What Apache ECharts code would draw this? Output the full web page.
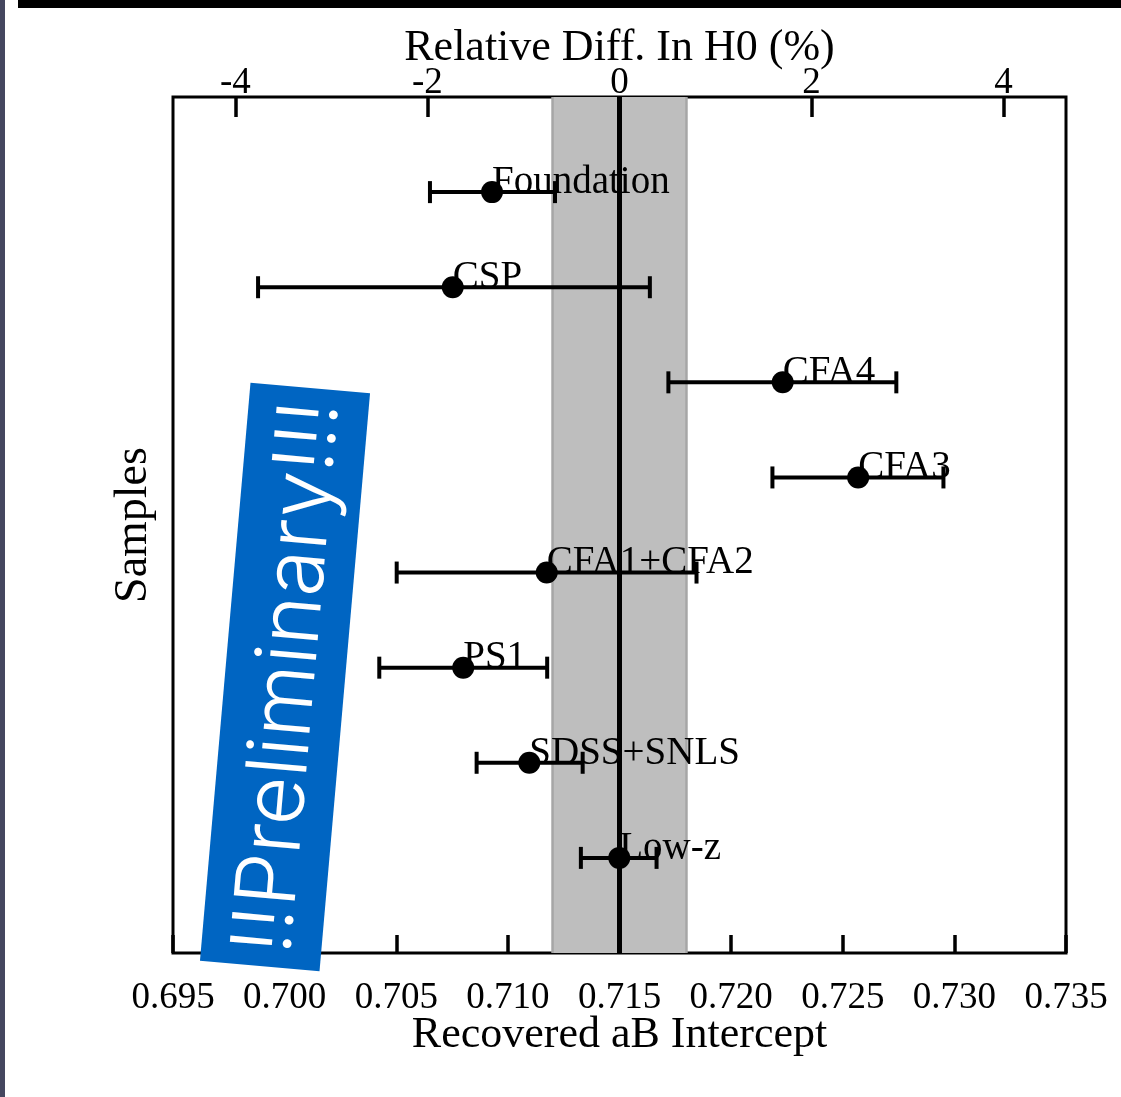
<!DOCTYPE html>
<html><head><meta charset="utf-8">
<script src="https://cdn.jsdelivr.net/npm/echarts@6/dist/echarts.min.js"></script>
<style>html,body{margin:0;padding:0;background:#fff}#c{width:1121px;height:1097px}</style>
</head><body><div id="c"></div>
<script>
// ---- data ----
const samples   = ['Foundation','CSP','CFA4','CFA3','CFA1+CFA2','PS1','SDSS+SNLS','Low-z'];
const rowPos    = [8, 7, 6, 5, 4, 3, 2, 1];
const intercept = [0.70929, 0.70753, 0.72231, 0.72569, 0.71174, 0.70800, 0.71096, 0.71499];
const errLow    = [0.70651, 0.69881, 0.71719, 0.72185, 0.70502, 0.70424, 0.70860, 0.71327];
const errHigh   = [0.71211, 0.71636, 0.72740, 0.72951, 0.71845, 0.71176, 0.71335, 0.71666];
const refValue  = 0.715;
const bandRange = [0.712, 0.718];
const h0Ticks   = [-4, -2, 0, 2, 4];
const h0Range   = [-4.65, 4.65];
const xRange    = [0.695, 0.735];
const xStep     = 0.005;
const yRange    = [0, 9];

const SERIF = '"Liberation Serif", "Times New Roman", serif';
const chart = echarts.init(document.getElementById('c'), null, {renderer: 'canvas'});

const pointData = samples.map((s, i) => [errLow[i], errHigh[i], intercept[i], rowPos[i], s]);

chart.setOption({
  backgroundColor: '#fff',
  animation: false,
  grid: {left: 173, right: 55, top: 97, bottom: 144, show: true, borderColor: '#000', borderWidth: 3, backgroundColor: 'transparent'},
  xAxis: [{
    type: 'value', position: 'bottom', min: xRange[0], max: xRange[1], interval: xStep,
    axisLine: {show: false}, splitLine: {show: false},
    axisTick: {show: true, inside: true, length: 18, lineStyle: {color: '#000', width: 3.5}},
    axisLabel: {margin: 27, color: '#000', fontFamily: SERIF, fontSize: 37, formatter: v => v.toFixed(3)},
    name: 'Recovered aB Intercept', nameLocation: 'middle', nameGap: 60, nameMoveOverlap: false,
    nameTextStyle: {color: '#000', fontFamily: SERIF, fontSize: 44}
  }, {
    type: 'value', position: 'top', min: h0Range[0], max: h0Range[1],
    axisLine: {show: false}, splitLine: {show: false},
    axisTick: {show: true, inside: true, length: 20, customValues: h0Ticks, lineStyle: {color: '#000', width: 3.5}},
    axisLabel: {margin: -5, color: '#000', fontFamily: SERIF, fontSize: 37, customValues: h0Ticks},
    name: 'Relative Diff. In H0 (%)', nameLocation: 'middle', nameGap: 27, nameMoveOverlap: false,
    nameTextStyle: {color: '#000', fontFamily: SERIF, fontSize: 44}
  }],
  yAxis: [{
    type: 'value', min: yRange[0], max: yRange[1],
    axisLine: {show: false}, axisTick: {show: false}, axisLabel: {show: false}, splitLine: {show: false},
    name: 'Samples', nameLocation: 'middle', nameGap: 16, nameRotate: 90, nameMoveOverlap: false,
    nameTextStyle: {color: '#000', fontFamily: SERIF, fontSize: 46}
  }],
  series: [{
    type: 'custom', xAxisIndex: 0, yAxisIndex: 0, silent: true, z: 1,
    data: [bandRange],
    renderItem: (params, api) => {
      const p0 = api.coord([api.value(0), yRange[1]]);
      const p1 = api.coord([api.value(1), yRange[0]]);
      return {type: 'group', children: [
        {type: 'rect', shape: {x: p0[0], y: p0[1], width: p1[0] - p0[0], height: p1[1] - p0[1]}, style: {fill: '#bebebe'}},
        {type: 'line', shape: {x1: p0[0], y1: p0[1], x2: p0[0], y2: p1[1]}, style: {stroke: '#a6a6a6', lineWidth: 2.5}},
        {type: 'line', shape: {x1: p1[0], y1: p0[1], x2: p1[0], y2: p1[1]}, style: {stroke: '#a6a6a6', lineWidth: 2.5}}
      ]};
    }
  }, {
    type: 'custom', xAxisIndex: 0, yAxisIndex: 0, silent: true, z: 2,
    data: [[refValue]],
    renderItem: (params, api) => {
      const a = api.coord([api.value(0), yRange[1]]);
      const b = api.coord([api.value(0), yRange[0]]);
      return {type: 'line', shape: {x1: a[0], y1: a[1], x2: b[0], y2: b[1]}, style: {stroke: '#000', lineWidth: 5}};
    }
  }, {
    type: 'custom', xAxisIndex: 0, yAxisIndex: 0, silent: true, z: 3,
    data: pointData,
    renderItem: (params, api) => {
      const y = api.value(3);
      const lo = api.coord([api.value(0), y]);
      const hi = api.coord([api.value(1), y]);
      const c = api.coord([api.value(2), y]);
      const name = samples[params.dataIndex];
      const cap = 11;
      return {type: 'group', children: [
        {type: 'line', shape: {x1: lo[0], y1: lo[1], x2: hi[0], y2: hi[1]}, style: {stroke: '#000', lineWidth: 4}},
        {type: 'line', shape: {x1: lo[0], y1: lo[1] - cap, x2: lo[0], y2: lo[1] + cap}, style: {stroke: '#000', lineWidth: 4}},
        {type: 'line', shape: {x1: hi[0], y1: hi[1] - cap, x2: hi[0], y2: hi[1] + cap}, style: {stroke: '#000', lineWidth: 4}},
        {type: 'circle', shape: {cx: c[0], cy: c[1], r: 11}, style: {fill: '#000'}},
        {type: 'text', style: {text: name, x: c[0], y: c[1] + 10, align: 'left', verticalAlign: 'bottom', fill: '#000', font: '39px ' + SERIF}}
      ]};
    }
  }],
  graphic: [
    {type: 'rect', shape: {x: 0, y: 0, width: 5, height: 1097}, style: {fill: '#45475f'}, z: 100},
    {type: 'rect', shape: {x: 18, y: 0, width: 1103, height: 8}, style: {fill: '#000'}, z: 100},
    {type: 'group', x: 285, y: 677, rotation: -5 * Math.PI / 180, z: 100, children: [
      {type: 'rect', z: 100, shape: {x: -60, y: -290, width: 120, height: 580}, style: {fill: '#0065c2'}},
      {type: 'text', z: 101, rotation: Math.PI / 2, style: {text: '!!Preliminary!!!', x: 0, y: 4, align: 'center', verticalAlign: 'middle', fill: '#fff', font: 'normal normal 300 84px Inter, Lato, sans-serif'}}
    ]}
  ]
});
</script></body></html>
